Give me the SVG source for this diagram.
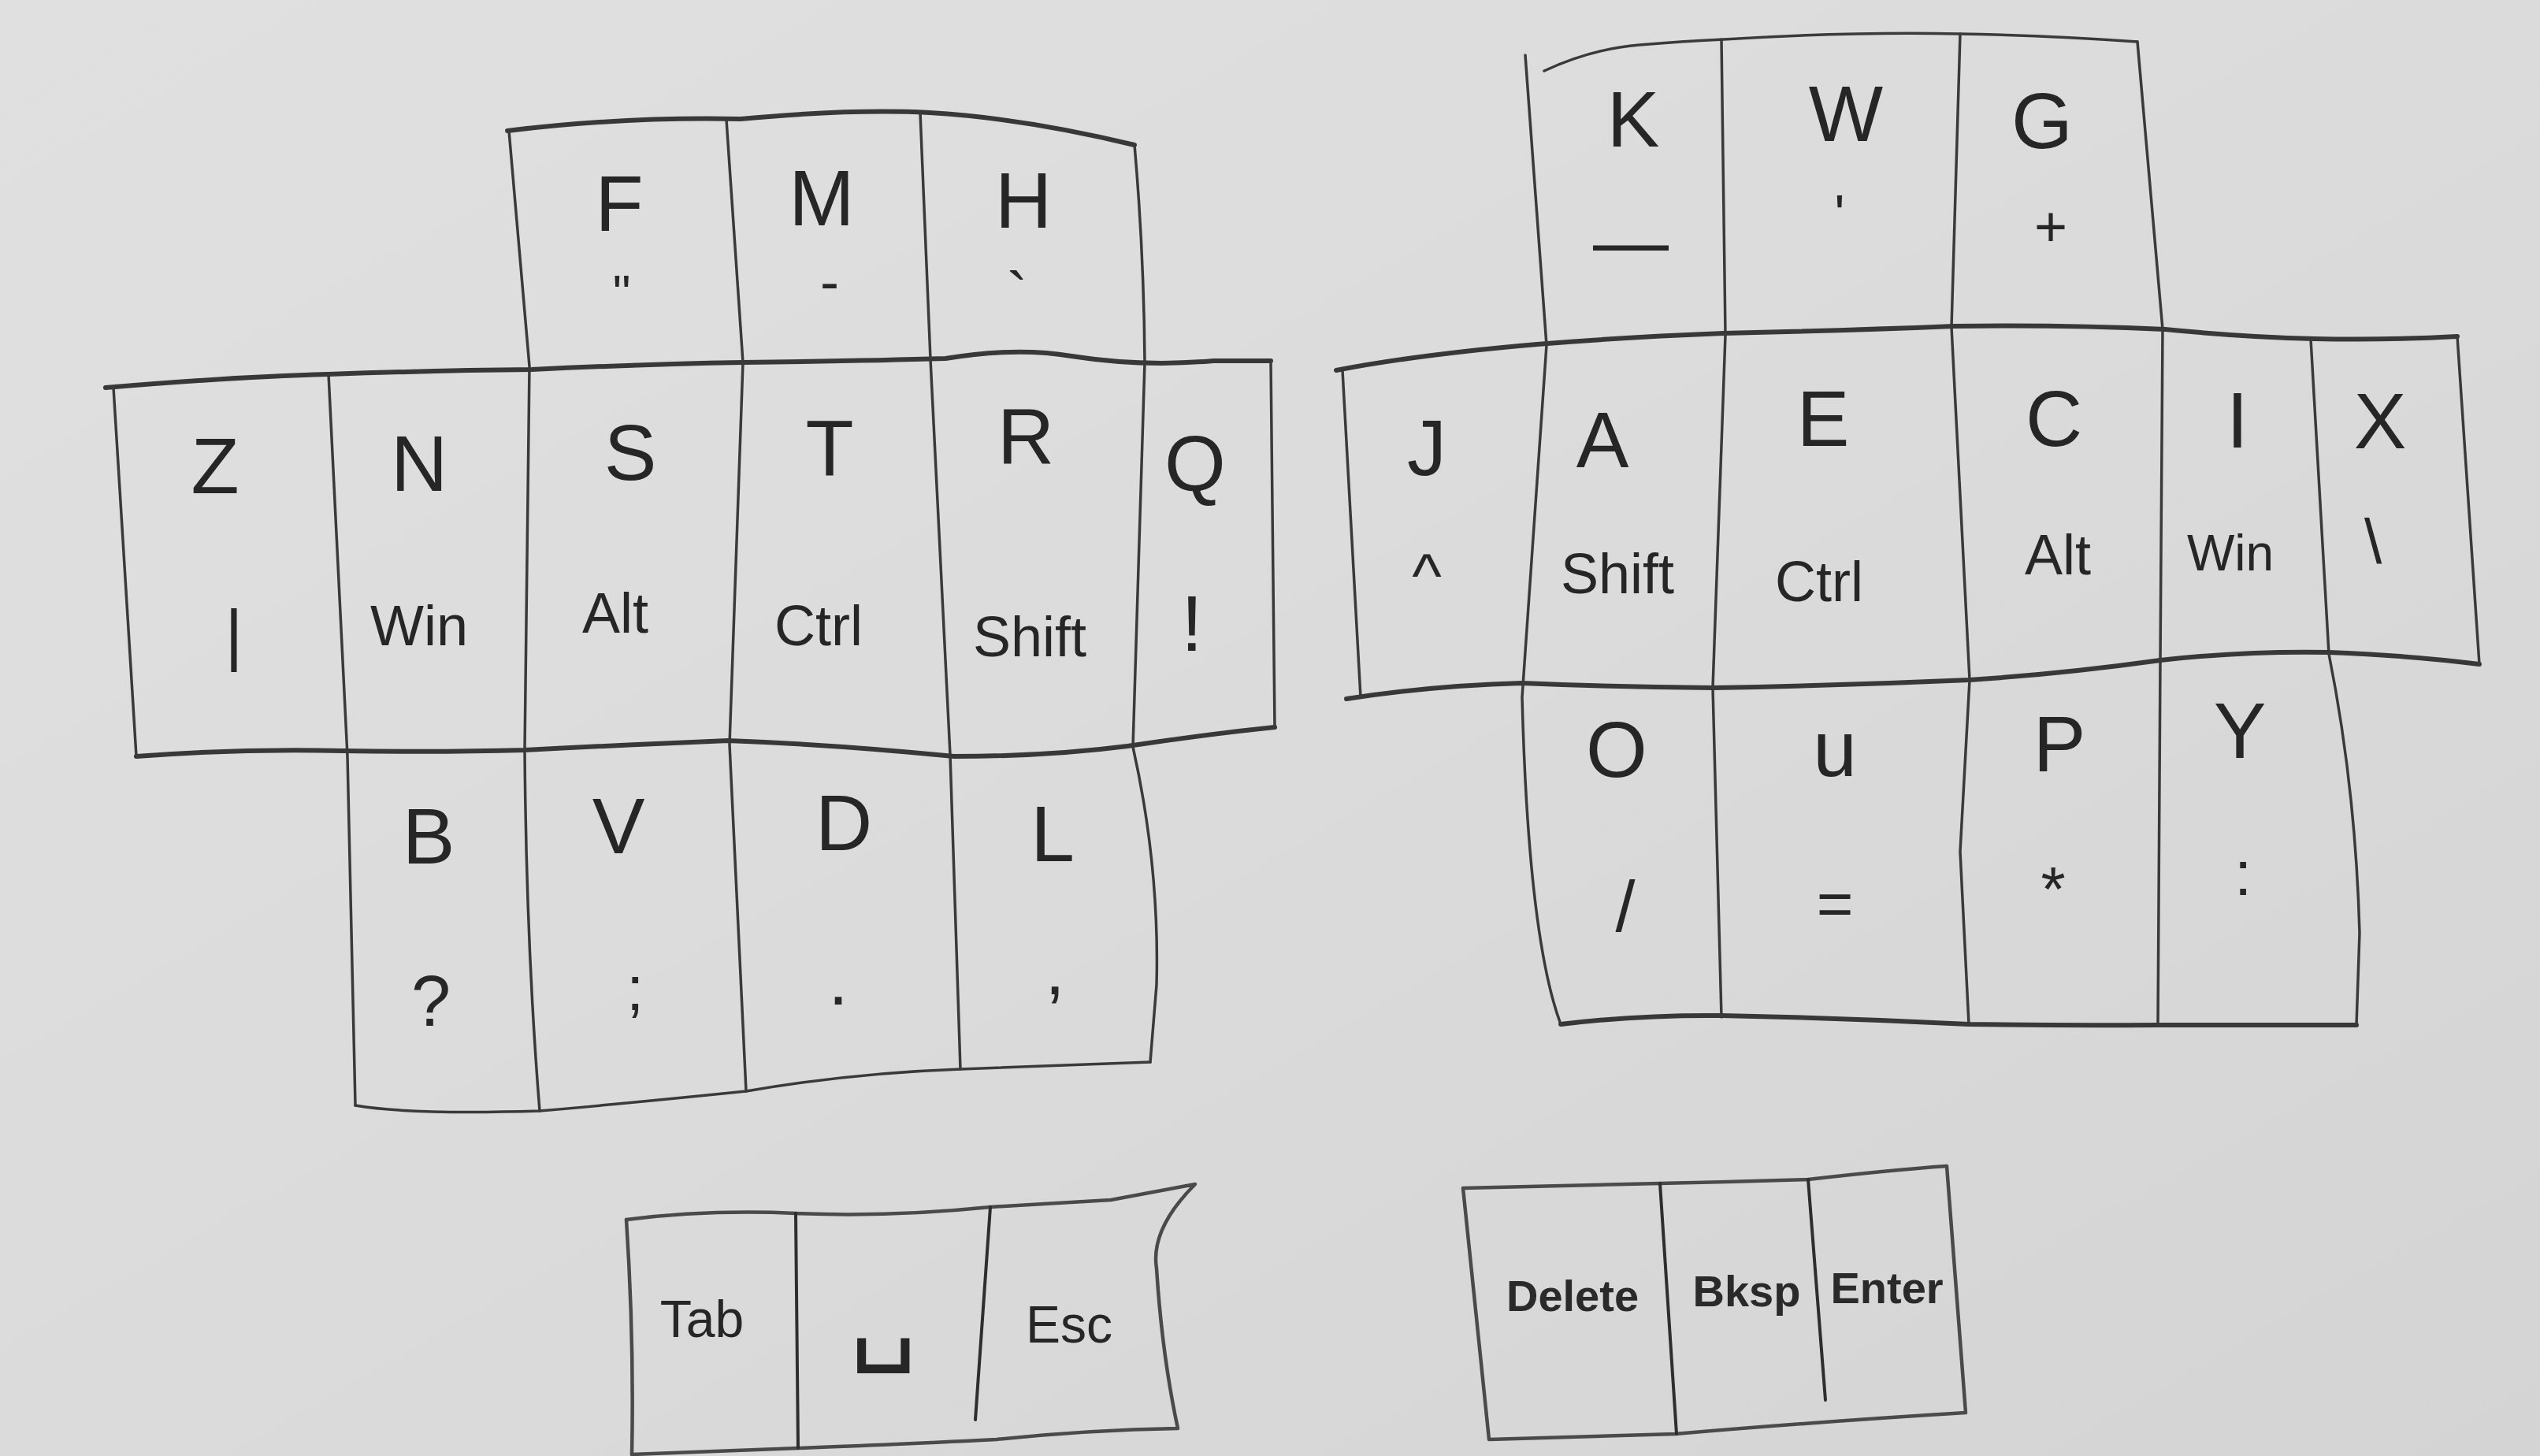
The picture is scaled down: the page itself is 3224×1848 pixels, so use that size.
<svg xmlns="http://www.w3.org/2000/svg" width="3224" height="1848" viewBox="0 0 3224 1848">
<defs>
<linearGradient id="paper" x1="0" y1="0" x2="1" y2="1">
<stop offset="0" stop-color="#dfe0df"/>
<stop offset="0.5" stop-color="#dadbda"/>
<stop offset="1" stop-color="#d3d4d3"/>
</linearGradient>
<style>
.h{fill:none;stroke:#383838;stroke-width:6;stroke-linecap:round;stroke-linejoin:round}
.v{fill:none;stroke:#3a3a3a;stroke-width:3.5;stroke-linecap:round;stroke-linejoin:round}
.t{fill:none;stroke:#4a4a4a;stroke-width:4.5;stroke-linecap:round;stroke-linejoin:round}
.td{fill:none;stroke:#2e2e2e;stroke-width:4;stroke-linecap:round}
text{font-family:"Liberation Sans","DejaVu Sans",sans-serif;fill:#262626;text-anchor:middle}
.k{font-size:100px}
.s{font-size:72px}
.p{font-size:80px}
.th{font-size:66px}
.tr{font-size:56px;font-weight:bold;fill:#2a2a2a}
</style>
</defs>
<rect width="3224" height="1848" fill="url(#paper)"/>

<g id="outlines">
<path class="h" d="M644,166 Q790,148 940,151 Q1080,138 1180,143 Q1300,150 1440,184"/>
<path class="h" d="M134,492 Q300,478 417,475 Q560,470 675,469 Q820,462 943,460 Q1100,458 1200,455 Q1290,440 1360,452 Q1450,466 1540,458 L1613,458"/>
<path class="h" d="M173,960 Q300,950 436,953 Q560,955 666,952 Q800,945 924,940 Q1060,945 1211,960 Q1330,960 1431,947 Q1530,932 1618,923"/>
<path class="v" d="M451,1403 Q520,1415 685,1410 Q800,1400 947,1385 Q1080,1362 1219,1357 Q1350,1352 1460,1348"/>
<path class="v" d="M144,492 L173,960"/>
<path class="v" d="M417,475 L441,960 L451,1403"/>
<path class="v" d="M646,166 L672,465 L666,952 Q668,1200 685,1410"/>
<path class="v" d="M922,152 L943,460 L926,945 L947,1385"/>
<path class="v" d="M1168,143 L1181,456 L1206,958 L1219,1357"/>
<path class="v" d="M1440,184 Q1452,320 1453,460 L1438,948 Q1472,1100 1468,1250 L1460,1348"/>
<path class="v" d="M1613,458 L1618,923"/>

<path class="v" d="M1960,90 Q2020,62 2081,57 Q2140,52 2188,50 Q2350,40 2488,43 Q2600,45 2713,53"/>
<path class="h" d="M1696,470 Q1800,450 1951,437 Q2060,428 2188,423 Q2330,420 2480,414 Q2620,412 2748,418 Q2850,428 2938,430 Q3030,432 3119,427"/>
<path class="h" d="M1709,887 Q1820,870 1932,867 Q2050,872 2174,873 Q2340,870 2500,863 Q2620,855 2742,838 Q2850,826 2956,828 Q3060,832 3147,843"/>
<path class="h" d="M1981,1300 Q2080,1288 2185,1289 Q2340,1292 2499,1300 Q2620,1302 2739,1301 L2991,1301"/>
<path class="v" d="M1936,70 L1963,438 L1932,885 Q1940,1190 1981,1300"/>
<path class="v" d="M1704,470 L1727,885"/>
<path class="v" d="M2185,50 L2190,425 L2174,873 L2185,1291"/>
<path class="v" d="M2488,43 L2477,415 L2500,863 L2488,1081 L2499,1300"/>
<path class="v" d="M2713,53 L2745,418 L2742,840 L2739,1301"/>
<path class="v" d="M2933,430 L2956,830 Q2990,1000 2995,1184 L2991,1301"/>
<path class="v" d="M3119,427 L3147,843"/>

<path class="t" d="M795,1548 Q900,1535 1010,1540 Q1130,1545 1257,1532 Q1380,1525 1410,1523 Q1480,1510 1517,1503 Q1460,1560 1468,1610 Q1475,1720 1495,1813 Q1380,1815 1265,1827 Q1100,1835 1013,1838 Q900,1842 802,1846"/>
<path class="t" d="M795,1548 Q805,1700 802,1846"/>
<path class="td" d="M1010,1540 L1013,1838"/>
<path class="td" d="M1257,1532 L1238,1802"/>

<path class="t" d="M1857,1508 Q2000,1505 2107,1502 Q2200,1500 2295,1497 Q2400,1485 2471,1480 L2495,1793 Q2300,1805 2126,1820 L1890,1827 Z"/>
<path class="td" d="M2107,1502 L2128,1820"/>
<path class="td" d="M2295,1497 L2317,1777"/>
</g>

<g id="key-F"><text class="k" x="786" y="293">F</text><text class="p" x="789" y="395" style="font-size:64px">"</text></g>
<g id="key-M"><text class="k" x="1043" y="286">M</text><text class="p" x="1053" y="382" style="font-size:72px">-</text></g>
<g id="key-H"><text class="k" x="1299" y="289">H</text><text class="p" x="1291" y="402">`</text></g>

<g id="key-Z"><text class="k" x="273" y="626">Z</text><text class="p" x="297" y="835" style="font-size:88px">|</text></g>
<g id="key-N"><text class="k" x="532" y="623">N</text><text class="s" x="532" y="819">Win</text></g>
<g id="key-S"><text class="k" x="800" y="609">S</text><text class="s" x="781" y="803">Alt</text></g>
<g id="key-T"><text class="k" x="1053" y="603">T</text><text class="s" x="1039" y="819">Ctrl</text></g>
<g id="key-R"><text class="k" x="1302" y="589">R</text><text class="s" x="1307" y="833">Shift</text></g>
<g id="key-Q"><text class="k" x="1517" y="623">Q</text><text class="p" x="1513" y="826" style="font-size:100px">!</text></g>

<g id="key-B"><text class="k" x="544" y="1096">B</text><text class="p" x="547" y="1302" style="font-size:90px">?</text></g>
<g id="key-V"><text class="k" x="785" y="1083">V</text><text class="p" x="806" y="1282">;</text></g>
<g id="key-D"><text class="k" x="1071" y="1079">D</text><text class="p" x="1064" y="1275" style="font-size:90px">.</text></g>
<g id="key-L"><text class="k" x="1336" y="1093">L</text><text class="p" x="1339" y="1262" style="font-size:90px">,</text></g>

<g id="key-Tab"><text class="th" x="891" y="1697">Tab</text></g>
<g id="key-Space"><text x="1121" y="1712" style="font-family:'DejaVu Sans',sans-serif;font-size:135px">␣</text></g>
<g id="key-Esc"><text class="th" x="1357" y="1704">Esc</text></g>

<g id="key-K"><text class="k" x="2073" y="186">K</text><text class="p" x="2070" y="339" style="font-size:96px">—</text></g>
<g id="key-W"><text class="k" x="2343" y="179">W</text><text class="p" x="2335" y="297" style="font-size:70px">'</text></g>
<g id="key-G"><text class="k" x="2592" y="188">G</text><text class="p" x="2603" y="312" style="font-size:72px">+</text></g>

<g id="key-J"><text class="k" x="1811" y="603">J</text><text class="p" x="1811" y="758">^</text></g>
<g id="key-A"><text class="k" x="2034" y="593">A</text><text class="s" x="2053" y="753">Shift</text></g>
<g id="key-E"><text class="k" x="2314" y="566">E</text><text class="s" x="2309" y="763">Ctrl</text></g>
<g id="key-C"><text class="k" x="2607" y="566">C</text><text class="s" x="2612" y="729">Alt</text></g>
<g id="key-I"><text class="k" x="2840" y="568">I</text><text class="s" x="2831" y="724" style="font-size:64px">Win</text></g>
<g id="key-X"><text class="k" x="3021" y="569">X</text><text class="p" x="3012" y="715">\</text></g>

<g id="key-O"><text class="k" x="2052" y="986">O</text><text class="p" x="2063" y="1182" style="font-size:90px">/</text></g>
<g id="key-U"><text class="k" x="2329" y="985">u</text><text class="p" x="2329" y="1174">=</text></g>
<g id="key-P"><text class="k" x="2614" y="979">P</text><text class="p" x="2606" y="1156">*</text></g>
<g id="key-Y"><text class="k" x="2843" y="962">Y</text><text class="p" x="2847" y="1136">:</text></g>

<g id="key-Delete"><text class="tr" x="1996" y="1664">Delete</text></g>
<g id="key-Bksp"><text class="tr" x="2217" y="1658">Bksp</text></g>
<g id="key-Enter"><text class="tr" x="2395" y="1654">Enter</text></g>
</svg>
